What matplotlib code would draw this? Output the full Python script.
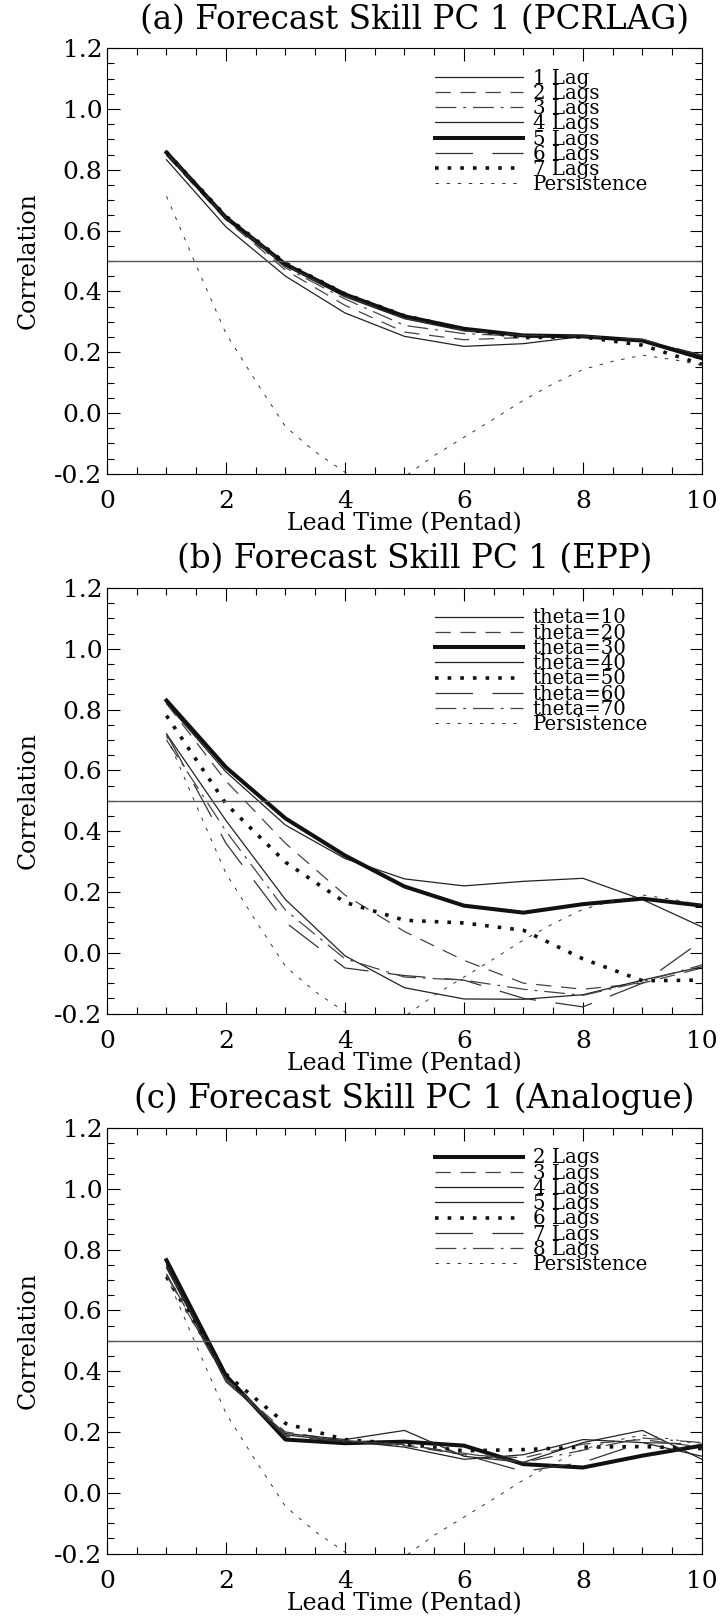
import matplotlib
matplotlib.use("Agg")
import matplotlib.pyplot as plt
from matplotlib.ticker import MultipleLocator

plt.rcParams['font.family'] = ['DejaVu Serif']
plt.rcParams['lines.scale_dashes'] = False

lead = [1, 2, 3, 4, 5, 6, 7, 8, 9, 10]

# persistence curve, read at half pentads (same in all panels)
pers_x = [1.0, 1.5, 2.0, 2.5, 3.0, 3.5, 4.0, 4.5, 5.0, 5.5,
          6.0, 6.5, 7.0, 7.5, 8.0, 8.5, 9.0, 9.5, 10.0]
pers_y = [0.713, 0.485, 0.261, 0.105, -0.045, -0.128, -0.195, -0.225, -0.21, -0.14,
          -0.08, -0.02, 0.042, 0.096, 0.143, 0.17, 0.19, 0.176, 0.158]

# (a) PCRLAG
lag_labels_a = ["1 Lag", "2 Lags", "3 Lags", "4 Lags", "5 Lags", "6 Lags", "7 Lags"]
pcrlag = [
    [0.833, 0.612, 0.45, 0.329, 0.252, 0.219, 0.228, 0.252, 0.238, 0.19],
    [0.848, 0.635, 0.47, 0.354, 0.266, 0.241, 0.248, 0.252, 0.236, 0.178],
    [0.85, 0.638, 0.478, 0.375, 0.288, 0.261, 0.252, 0.252, 0.238, 0.175],
    [0.852, 0.64, 0.484, 0.382, 0.31, 0.27, 0.254, 0.252, 0.24, 0.185],
    [0.857, 0.643, 0.489, 0.39, 0.318, 0.277, 0.255, 0.252, 0.238, 0.18],
    [0.855, 0.641, 0.486, 0.385, 0.312, 0.272, 0.255, 0.253, 0.242, 0.19],
    [0.858, 0.647, 0.493, 0.392, 0.32, 0.276, 0.248, 0.25, 0.223, 0.16],
]

# (b) EPP
theta_labels = ["theta=10", "theta=20", "theta=30", "theta=40", "theta=50", "theta=60", "theta=70"]
epp = [
    [0.82, 0.595, 0.42, 0.31, 0.243, 0.22, 0.235, 0.245, 0.175, 0.085],
    [0.82, 0.565, 0.36, 0.19, 0.07, -0.025, -0.1, -0.12, -0.1, -0.05],
    [0.83, 0.61, 0.442, 0.32, 0.218, 0.155, 0.132, 0.16, 0.178, 0.155],
    [0.72, 0.435, 0.175, -0.01, -0.115, -0.152, -0.153, -0.138, -0.09, -0.046],
    [0.78, 0.49, 0.298, 0.166, 0.107, 0.098, 0.074, -0.02, -0.092, -0.09],
    [0.72, 0.36, 0.10, -0.05, -0.075, -0.09, -0.15, -0.178, -0.1, 0.04],
    [0.70, 0.40, 0.14, -0.02, -0.08, -0.09, -0.12, -0.14, -0.095, -0.04],
]

# (c) Analogue
lag_labels_c = ["2 Lags", "3 Lags", "4 Lags", "5 Lags", "6 Lags", "7 Lags", "8 Lags"]
analogue = [
    [0.765, 0.385, 0.175, 0.163, 0.168, 0.155, 0.094, 0.083, 0.122, 0.155],
    [0.745, 0.375, 0.2, 0.17, 0.155, 0.125, 0.115, 0.16, 0.175, 0.15],
    [0.74, 0.37, 0.19, 0.17, 0.15, 0.11, 0.125, 0.175, 0.165, 0.12],
    [0.75, 0.365, 0.195, 0.175, 0.205, 0.12, 0.1, 0.165, 0.205, 0.11],
    [0.71, 0.39, 0.228, 0.175, 0.16, 0.138, 0.142, 0.15, 0.152, 0.145],
    [0.72, 0.37, 0.185, 0.168, 0.16, 0.125, 0.07, 0.1, 0.165, 0.16],
    [0.715, 0.37, 0.19, 0.172, 0.158, 0.13, 0.1, 0.14, 0.18, 0.165],
]

thin = dict(color='#222222', lw=0.9, ls='-')
thick = dict(color='#111111', lw=2.9, ls='-')
dash = dict(color='#444444', lw=0.9, ls=(0, (11, 7)))
longdash = dict(color='#333333', lw=0.9, ls=(0, (27, 14)))
dashdot = dict(color='#444444', lw=0.9, ls=(0, (15, 5, 2, 5)))
dots = dict(color='#111111', lw=2.6, ls=(0, (2.6, 6.5)))
pers = dict(color='#333333', lw=0.7, ls=(0, (2.5, 5.5)))

styles_a = [thin, dash, dashdot, thin, thick, longdash, dots]
styles_b = [thin, dash, thick, thin, dots, longdash, dashdot]
styles_c = [thick, dash, thin, thin, dots, longdash, dashdot]


def panel(ax, title, labels, series, styles):
    for lab, vals, st in zip(labels, series, styles):
        ax.plot(lead, vals, label=lab, **st)
    ax.plot(pers_x, pers_y, label="Persistence", **pers)
    ax.axhline(0.5, color='#555555', lw=1.0)
    ax.set_xlim(0, 10)
    ax.set_ylim(-0.2, 1.2)
    ax.xaxis.set_major_locator(MultipleLocator(2))
    ax.xaxis.set_minor_locator(MultipleLocator(0.5))
    ax.yaxis.set_major_locator(MultipleLocator(0.2))
    ax.yaxis.set_minor_locator(MultipleLocator(0.05))
    ax.set_yticklabels([f"{v:.1f}" for v in ax.get_yticks()])
    ax.tick_params(which='both', direction='in', top=True, right=True, labelsize=18, width=0.8)
    ax.tick_params(which='major', length=9)
    ax.tick_params(which='minor', length=5)
    ax.tick_params(axis='x', which='major', pad=12)
    ax.tick_params(axis='y', which='major', pad=3.5)
    ax.set_xlabel("Lead Time (Pentad)", fontsize=17, labelpad=-1)
    ax.set_ylabel("Correlation", fontsize=17, labelpad=10)
    ax.text(0.517, 1.068, title, transform=ax.transAxes, ha='center', va='center', fontsize=23.5)
    ax.legend(loc='upper left', bbox_to_anchor=(0.551, 0.952), frameon=False, fontsize=14.2,
              handlelength=4.47, handletextpad=0.5, labelspacing=-0.19, borderpad=0, borderaxespad=0)


fig = plt.figure(figsize=(7.21, 16.23), dpi=100)
ax1 = fig.add_axes([0.1484, 0.7081, 0.8252, 0.2622])
ax2 = fig.add_axes([0.1484, 0.3755, 0.8252, 0.2622])
ax3 = fig.add_axes([0.1484, 0.0428, 0.8252, 0.2622])

panel(ax1, "(a) Forecast Skill PC 1 (PCRLAG)", lag_labels_a, pcrlag, styles_a)
panel(ax2, "(b) Forecast Skill PC 1 (EPP)", theta_labels, epp, styles_b)
panel(ax3, "(c) Forecast Skill PC 1 (Analogue)", lag_labels_c, analogue, styles_c)

plt.savefig("out.png", dpi=100)
